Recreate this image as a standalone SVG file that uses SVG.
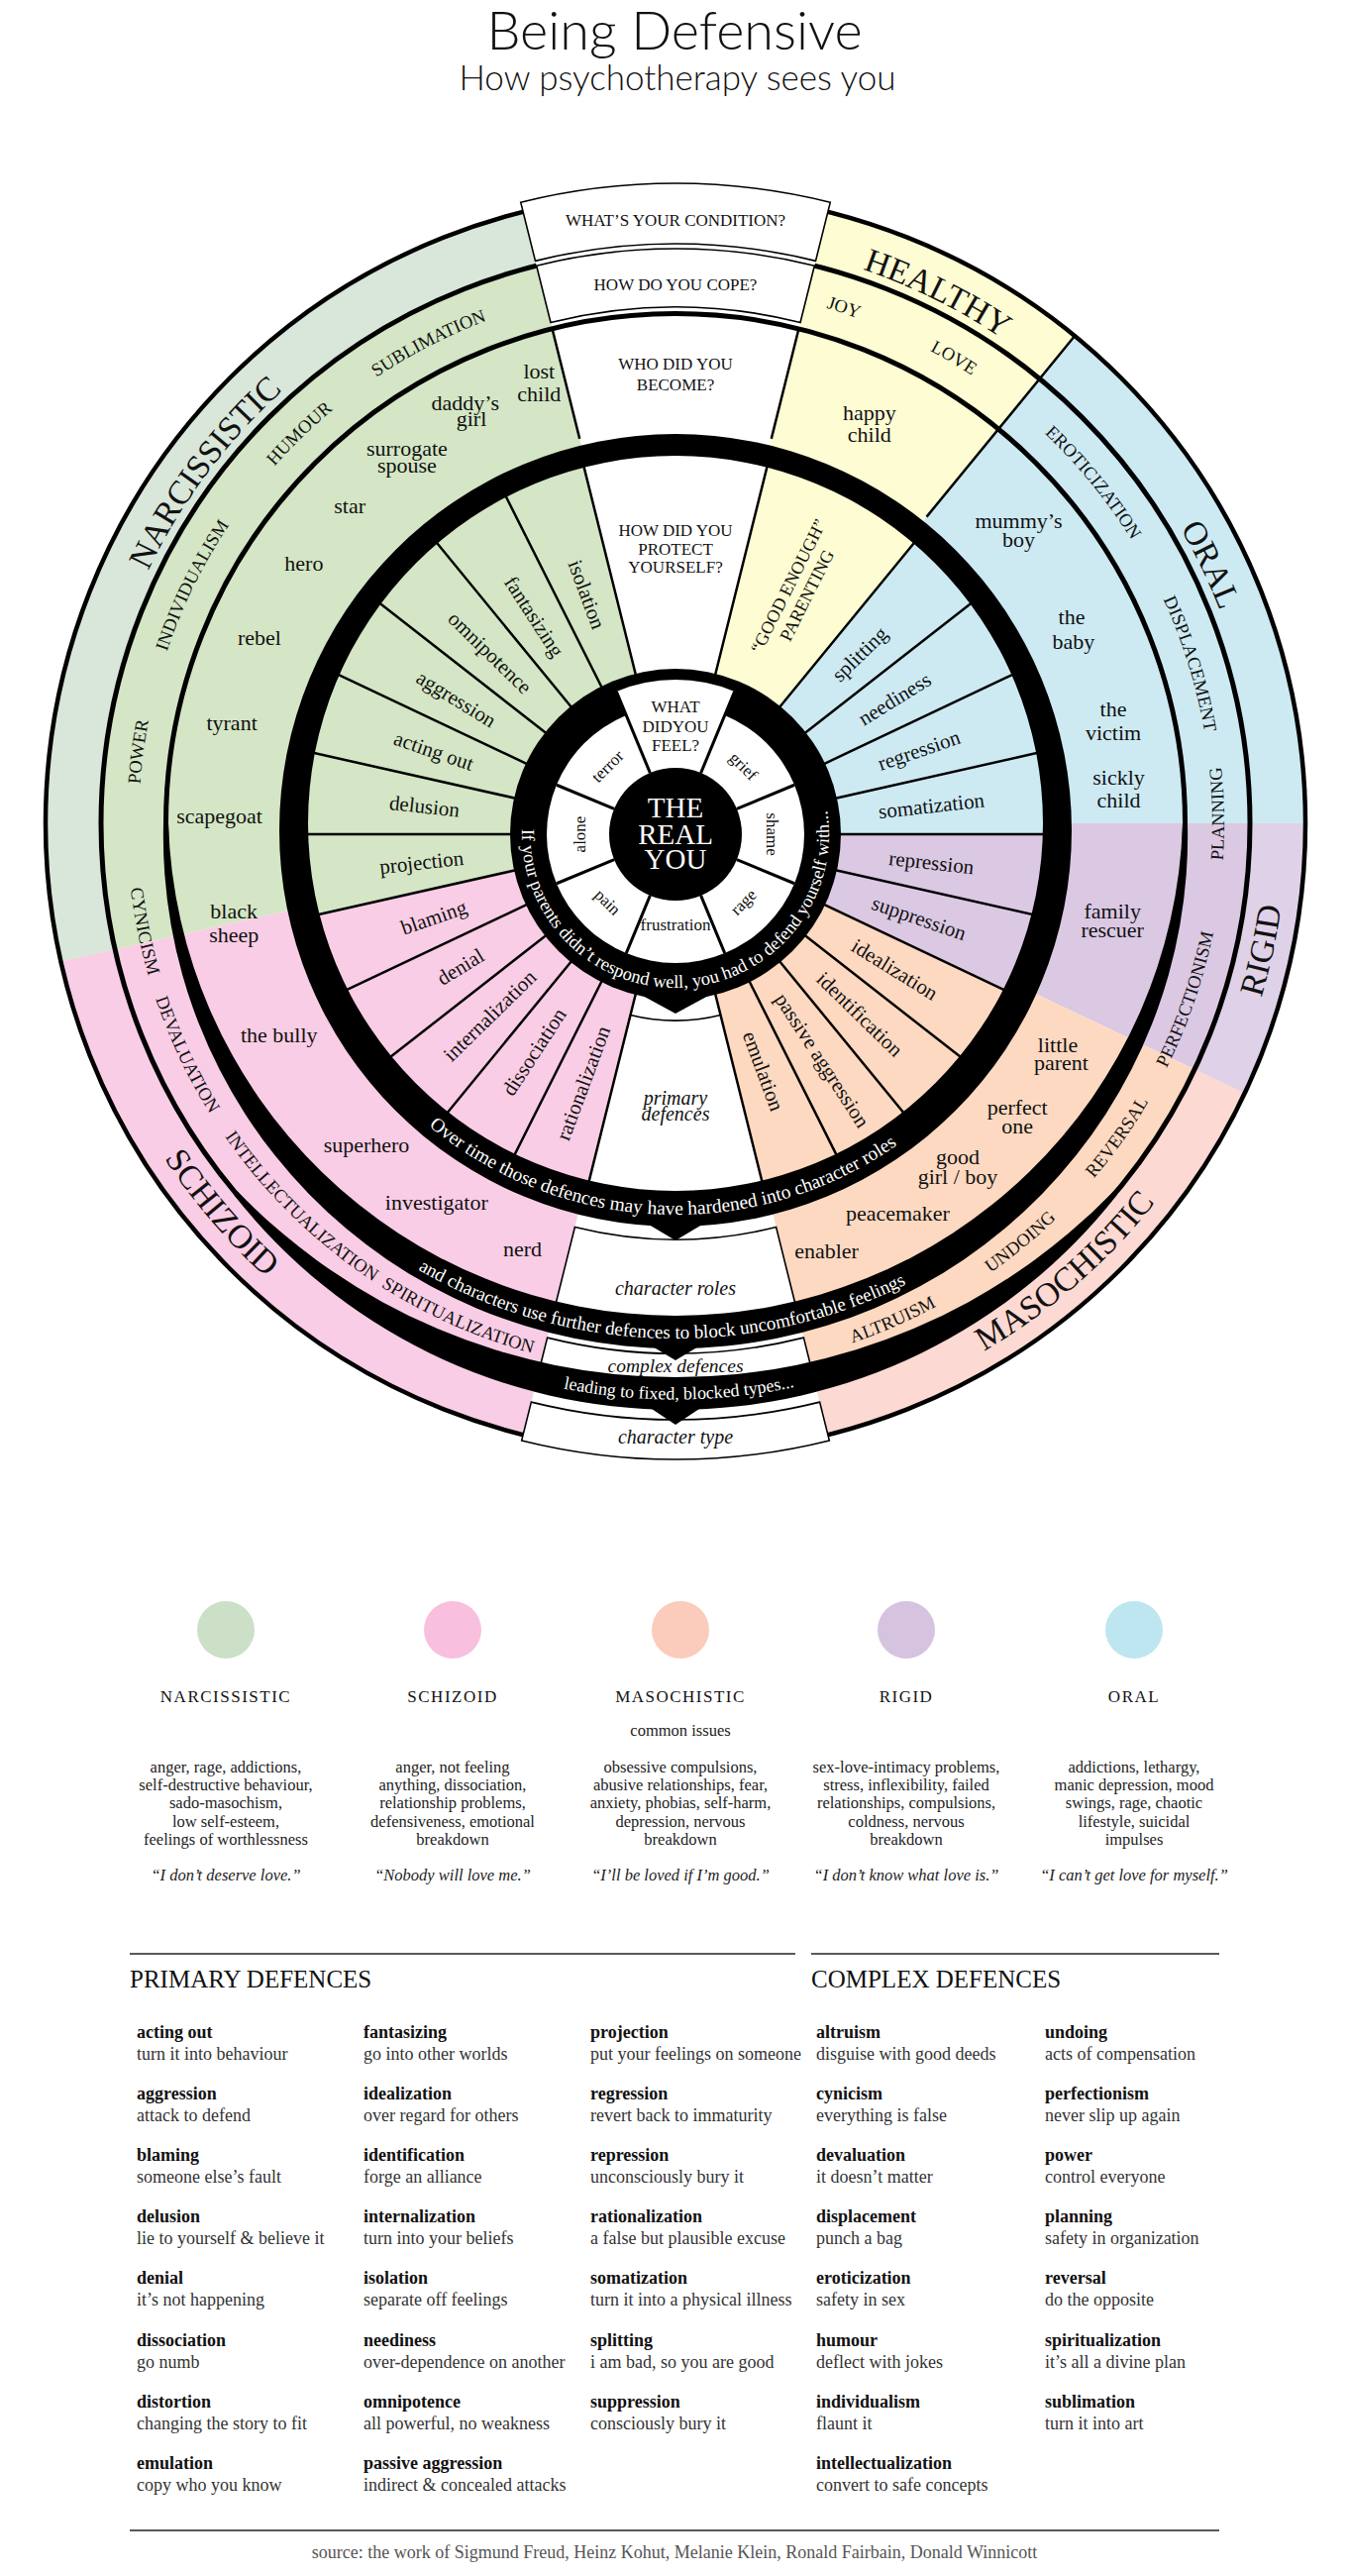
<svg xmlns="http://www.w3.org/2000/svg" width="1362" height="2600" viewBox="0 0 1362 2600">
<defs>
<style>
.serif{font-family:"Liberation Serif","Times New Roman",serif;fill:#111}
.sans{font-family:Lato,"Open Sans","DejaVu Sans",sans-serif;fill:#111;text-anchor:middle}
.div{stroke:#000;stroke-width:2.5;fill:none}
.box{fill:#fff;stroke:#000;stroke-width:1.6}
.cr{font-size:22px;text-anchor:middle}
.pd{font-size:21px;text-anchor:middle;dominant-baseline:central}
.fe{font-size:17px;text-anchor:middle;dominant-baseline:central}
.cp{font-size:18.5px;text-anchor:middle}
.cd{font-size:34px;text-anchor:middle}
.q{font-size:17px;text-anchor:middle}
.it{font-style:italic;text-anchor:middle}
.wt{fill:#fff}
.bl{fill:#fff;text-anchor:middle}
.lg{font-size:17px;text-anchor:middle;letter-spacing:1.5px}
.is{font-size:16.5px;text-anchor:middle;fill:#222}
.qt{font-size:16.5px;font-style:italic;text-anchor:middle;fill:#222}
.tn{font-size:18px;font-weight:bold}
.td{font-size:18px;fill:#333}
.hd{font-size:25px}
.rule{stroke:#222;stroke-width:1.6}
</style>
<path id="pc542" d="M682,289 A542,542 0 1,1 682,1373 A542,542 0 1,1 682,289"/>
<path id="pcc554" d="M682,277 A554,554 0 1,0 682,1385 A554,554 0 1,0 682,277"/>
<path id="pc590" d="M682,241 A590,590 0 1,1 682,1421 A590,590 0 1,1 682,241"/>
<path id="pcc617" d="M682,214 A617,617 0 1,0 682,1448 A617,617 0 1,0 682,214"/>
<path id="ring155" d="M682,687 A155,155 0 1,0 682,997 A155,155 0 1,0 682,687"/>
<path id="over391" d="M682,444 A391,391 0 1,0 682,1226 A391,391 0 1,0 682,444"/>
<path id="and520" d="M682,311 A520,520 0 1,0 682,1351 A520,520 0 1,0 682,311"/>
<path id="lead581" d="M682,249.5 A581.5,581.5 0 1,0 682,1412.5 A581.5,581.5 0 1,0 682,249.5"/>
</defs>
<rect width="1362" height="2600" fill="#fff"/>

<g id="title" class="sans">
<text x="681" y="50" font-size="54" font-weight="300">Being Defensive</text>
<text x="684" y="91" font-size="35" font-weight="300">How psychotherapy sees you</text>
</g>

<g id="wheel">
<g id="outer-sectors">
<path d="M682,831 L835.86,213.89 A636,636 0 0,1 1085.12,339.06 Z" fill="#fdfcd3"/>
<path d="M682,831 L1085.12,339.06 A636,636 0 0,1 1318,831 Z" fill="#cdeaf3"/>
<path d="M682,831 L1318,831 A636,636 0 0,1 1256.87,1103.15 Z" fill="#dbc8e3"/>
<path d="M682,831 L1256.87,1103.15 A636,636 0 0,1 835.86,1448.11 Z" fill="#fdd9c1"/>
<path d="M682,831 L528.14,1448.11 A636,636 0 0,1 61.47,970.46 Z" fill="#f9cde5"/>
<path d="M682,831 L61.47,970.46 A636,636 0 0,1 528.14,213.89 Z" fill="#d4e6c5"/>
<path d="M61.47,970.46 A636,636 0 0,1 528.14,213.89 L541.69,268.23 A580,580 0 0,0 116.11,958.18 Z" fill="#d9e6da"/>
<path d="M1318,831 A636,636 0 0,1 1256.87,1103.15 L1206.26,1079.19 A580,580 0 0,0 1262,831 Z" fill="#dfd2e8"/>
<path d="M1256.87,1103.15 A636,636 0 0,1 835.86,1448.11 L822.31,1393.77 A580,580 0 0,0 1206.26,1079.19 Z" fill="#fcd9d2"/>
</g>
<g id="primary-sectors">
<path d="M682,842 L587.65,463.58 A390,390 0 0,1 776.35,463.58 Z" fill="#fff"/>
<path d="M682,842 L776.35,1220.42 A390,390 0 0,1 587.65,1220.42 Z" fill="#fff"/>
<path d="M682,842 L776.35,463.58 A390,390 0 0,1 929.20,540.34 Z" fill="#fdfcd3"/>
<path d="M682,842 L929.20,540.34 A390,390 0 0,1 1072,842 Z" fill="#cdeaf3"/>
<path d="M682,842 L1072,842 A390,390 0 0,1 1034.52,1008.88 Z" fill="#dbc8e3"/>
<path d="M682,842 L1034.52,1008.88 A390,390 0 0,1 776.35,1220.42 Z" fill="#fdd9c1"/>
<path d="M682,842 L587.65,1220.42 A390,390 0 0,1 301.48,927.52 Z" fill="#f9cde5"/>
<path d="M682,842 L301.48,927.52 A390,390 0 0,1 587.65,463.58 Z" fill="#d4e6c5"/>
</g>
<g id="dividers" class="div">
<path d="M720.71,686.75 L776.83,461.64 M783.41,718.24 L930.47,538.79 M808.08,743.49 L990.90,600.66 M826.62,773.53 L1036.32,674.26 M838.11,806.92 L1064.47,756.04 M842,842 L1074,842 M838.11,877.08 L1064.47,927.96 M826.62,910.47 L1036.32,1009.74 M808.08,940.51 L990.90,1083.34 M783.41,965.76 L930.47,1145.21 M753.81,984.99 L857.94,1192.33 M720.71,997.25 L776.83,1222.36 M643.29,997.25 L587.17,1222.36 M610.19,984.99 L506.06,1192.33 M580.59,965.76 L433.53,1145.21 M555.92,940.51 L373.10,1083.34 M537.38,910.47 L327.68,1009.74 M525.89,877.08 L299.53,927.96 M522,842 L290,842 M525.89,806.92 L299.53,756.04 M537.38,773.53 L327.68,674.26 M555.92,743.49 L373.10,600.66 M580.59,718.24 L433.53,538.79 M610.19,699.01 L506.06,491.67 M643.29,686.75 L587.17,461.64"/>
<path d="M935.54,521.60 L1085.12,339.06 M585.23,442.88 L557.65,332.27 M778.77,442.88 L806.35,332.27"/>
</g>
<path id="thick-ring" fill="#000" fill-rule="evenodd" d="M282,838 A400,400 0 1,0 1082,838 A400,400 0 1,0 282,838 Z M311,831 A371,371 0 1,0 1053,831 A371,371 0 1,0 311,831 Z"/>
<g id="ring-lines" fill="none" stroke="#000">
<circle cx="682" cy="831" r="514.5" stroke-width="5"/>
<circle cx="682" cy="831" r="580" stroke-width="5"/>
<circle cx="682" cy="831" r="636" stroke-width="4.5"/>
</g>
<g id="boxes">
<path d="M542.41,271.14 A577,577 0 0,1 821.59,271.14 L823.77,262.40 A586,586 0 0,0 540.23,262.40 Z" fill="#fff"/>
<path class="box" d="M525.72,204.19 A646,646 0 0,1 838.28,204.19 L823.52,263.37 A585,585 0 0,0 540.48,263.37 Z"/>
<path class="box" d="M541.69,268.23 A580,580 0 0,1 822.31,268.23 L808.04,325.47 A521,521 0 0,0 555.96,325.47 Z"/>
<path class="box" d="M580.39,1238.53 A420,420 0 0,0 783.61,1238.53 L804.17,1321 A505,505 0 0,1 559.83,1321 Z"/>
<path class="box" d="M552.57,1350.11 A535,535 0 0,0 811.43,1350.11 L818.68,1379.22 A565,565 0 0,1 545.32,1379.22 Z"/>
<path class="box" d="M536.36,1415.12 A602,602 0 0,0 827.64,1415.12 L837.31,1453.93 A642,642 0 0,1 526.69,1453.93 Z"/>
<path d="M636.52,1024.42 A188,188 0 0,0 727.48,1024.42" fill="none" stroke="#000" stroke-width="1.6"/>
</g>
<g id="bands" fill="#000">
<path d="M165,831 A517.16,517.16 0 1,0 1199,831 L1194,831 A512.23,512.23 0 0,1 170,831 Z"/>
<path d="M235.8,1205.4 A566.3,566.3 0 0,0 1128.2,1205.4 L1124.4,1202.2 A615,615 0 0,1 239.6,1202.2 Z"/>
</g>
<g id="core">
<circle cx="682" cy="842" r="167" fill="#000"/>
<circle cx="682" cy="842" r="130" fill="#fff"/>
<path d="M682,842 L622.30,697.88 A156,156 0 0,1 741.70,697.88 Z" fill="#fff"/>
<path stroke="#000" stroke-width="3" fill="none" d="M707.64,780.10 L741.70,697.88 M656.36,780.10 L622.30,697.88 M743.90,816.36 L802.10,792.25 M743.90,867.64 L802.10,891.75 M707.64,903.90 L731.75,962.10 M656.36,903.90 L632.25,962.10 M620.10,867.64 L561.90,891.75 M620.10,816.36 L561.90,792.25"/>
<circle cx="682" cy="842" r="67" fill="#000"/>
</g>
<g id="pointers" fill="#000">
<polygon points="636,998 728,998 682,1023"/>
<polygon points="650,1233 714,1233 682,1252"/>
<polygon points="652,1355 712,1355 682,1373"/>
<polygon points="652,1418 712,1418 682,1438"/>
</g>

<g id="wheel-text" class="serif">
<g id="questions" class="q">
<text x="682" y="227.5">WHAT’S YOUR CONDITION?</text>
<text x="682" y="292.5">HOW DO YOU COPE?</text>
<text x="682" y="372.5">WHO DID YOU</text>
<text x="682" y="394">BECOME?</text>
<text x="682" y="541">HOW DID YOU</text>
<text x="682" y="559.5">PROTECT</text>
<text x="682" y="578">YOURSELF?</text>
<text x="682" y="719">WHAT</text>
<text x="682" y="738.5">DIDYOU</text>
<text x="682" y="758">FEEL?</text>
</g>
<g id="real-you" class="bl" font-size="29">
<text x="682" y="825">THE</text>
<text x="682" y="851.5">REAL</text>
<text x="682" y="877">YOU</text>
</g>
<g id="feelings" class="fe">
<text transform="translate(750.59,773.41) rotate(45)">grief</text>
<text transform="translate(779,842) rotate(90)">shame</text>
<text transform="translate(750.59,910.59) rotate(-45)">rage</text>
<text transform="translate(682,933)">frustration</text>
<text transform="translate(613.41,910.59) rotate(45)">pain</text>
<text transform="translate(585,842) rotate(-90)">alone</text>
<text transform="translate(613.41,773.41) rotate(-45)">terror</text>
</g>
<g id="primary-defences" class="pd">
<text transform="translate(867.99,660.29) rotate(-44.33)">splitting</text>
<text transform="translate(903.29,705.5) rotate(-31.67)">neediness</text>
<text transform="translate(927.84,757.35) rotate(-19)">regression</text>
<text transform="translate(940.41,813.32) rotate(-6.33)">somatization</text>
<text transform="translate(940.41,870.68) rotate(6.33)">repression</text>
<text transform="translate(927.84,926.65) rotate(19)">suppression</text>
<text transform="translate(903.29,978.5) rotate(31.67)">idealization</text>
<text transform="translate(867.99,1023.71) rotate(44.33)">identification</text>
<text transform="translate(830.14,1070.12) rotate(57)">passive aggression</text>
<text transform="translate(770.61,1081.11) rotate(69.67)">emulation</text>
<text transform="translate(588.87,1093.3) rotate(-69.67)">rationalization</text>
<text transform="translate(539.3,1061.73) rotate(-57)">dissociation</text>
<text transform="translate(494.58,1025.11) rotate(-44.33)">internalization</text>
<text transform="translate(464.96,975.87) rotate(-31.67)">denial</text>
<text transform="translate(438.06,926) rotate(-19)">blaming</text>
<text transform="translate(425.57,870.46) rotate(-6.33)">projection</text>
<text transform="translate(428.56,813.87) rotate(6.33)">delusion</text>
<text transform="translate(438.06,758) rotate(19)">acting out</text>
<text transform="translate(460.71,705.5) rotate(31.67)">aggression</text>
<text transform="translate(494.58,658.89) rotate(44.33)">omnipotence</text>
<text transform="translate(539.3,622.27) rotate(57)">fantasizing</text>
<text transform="translate(592.35,600.07) rotate(69.67)">isolation</text>
<g transform="translate(805.4,596.2) rotate(-63.33)" font-size="18">
<text y="-10.5">“GOOD ENOUGH”</text>
<text y="10.5">PARENTING</text>
</g>
</g>
<g id="box-labels" class="it">
<text x="682" y="1114.5" font-size="20">primary</text>
<text x="682" y="1130.5" font-size="20">defences</text>
<text x="682" y="1307" font-size="20">character roles</text>
<text x="682" y="1385" font-size="19.5">complex defences</text>
<text x="682" y="1457" font-size="20">character type</text>
</g>
<g id="character-roles" class="cr">
<text x="544.3" y="382">lost</text><text x="544.3" y="405">child</text>
<text x="469.8" y="414">daddy’s</text><text x="476" y="430">girl</text>
<text x="410.9" y="460">surrogate</text><text x="410.9" y="477">spouse</text>
<text x="353.2" y="518">star</text>
<text x="306.9" y="576">hero</text>
<text x="261.9" y="650.5">rebel</text>
<text x="234.1" y="736.8">tyrant</text>
<text x="221.5" y="830.7">scapegoat</text>
<text x="236.2" y="926.8">black</text><text x="236.2" y="951.2">sheep</text>
<text x="281.7" y="1052.2">the bully</text>
<text x="370" y="1162.5">superhero</text>
<text x="440.8" y="1221.4">investigator</text>
<text x="527.5" y="1267.7">nerd</text>
<text x="834.5" y="1269.8">enabler</text>
<text x="906.4" y="1232.4">peacemaker</text>
<text x="967" y="1175.1">good</text><text x="967" y="1194.5">girl / boy</text>
<text x="1027.2" y="1125">perfect</text><text x="1027.2" y="1144">one</text>
<text x="1068" y="1061.5">little</text><text x="1071.4" y="1079.6">parent</text>
<text x="1123.2" y="926.8">family</text><text x="1123.2" y="945.7">rescuer</text>
<text x="877.8" y="424.1">happy</text><text x="877.8" y="446.4">child</text>
<text x="1028.5" y="532.7">mummy’s</text><text x="1028.5" y="552">boy</text>
<text x="1082" y="629.5">the</text><text x="1084" y="654.8">baby</text>
<text x="1124" y="723.4">the</text><text x="1124" y="746.5">victim</text>
<text x="1129.5" y="791.5">sickly</text><text x="1129.5" y="814.7">child</text>
</g>
<g id="coping" class="cp">
<text><textPath href="#pc542" startOffset="92.44%">SUBLIMATION</textPath></text>
<text><textPath href="#pc542" startOffset="87.78%">HUMOUR</textPath></text>
<text><textPath href="#pc542" startOffset="82.28%">INDIVIDUALISM</textPath></text>
<text><textPath href="#pc542" startOffset="77.11%">POWER</textPath></text>
<text><textPath href="#pc542" startOffset="5.03%">JOY</textPath></text>
<text><textPath href="#pc542" startOffset="8.58%">LOVE</textPath></text>
<text><textPath href="#pc542" startOffset="14.11%">EROTICIZATION</textPath></text>
<text><textPath href="#pc542" startOffset="20.22%">DISPLACEMENT</textPath></text>
<text><textPath href="#pcc554" startOffset="75.28%">PLANNING</textPath></text>
<text><textPath href="#pcc554" startOffset="69.72%">PERFECTIONISM</textPath></text>
<text><textPath href="#pcc554" startOffset="65.17%">REVERSAL</textPath></text>
<text><textPath href="#pcc554" startOffset="60.97%">UNDOING</textPath></text>
<text><textPath href="#pcc554" startOffset="56.56%">ALTRUISM</textPath></text>
<text><textPath href="#pcc554" startOffset="43.39%">SPIRITUALIZATION</textPath></text>
<text><textPath href="#pcc554" startOffset="37.69%">INTELLECTUALIZATION</textPath></text>
<text><textPath href="#pcc554" startOffset="32.03%">DEVALUATION</textPath></text>
<text><textPath href="#pcc554" startOffset="28.19%">CYNICISM</textPath></text>
</g>
<g id="conditions" class="cd">
<text><textPath href="#pc590" startOffset="85.19%">NARCISSISTIC</textPath></text>
<text><textPath href="#pc590" startOffset="7.31%">HEALTHY</textPath></text>
<text><textPath href="#pc590" startOffset="17.83%">ORAL</textPath></text>
<text><textPath href="#pcc617" startOffset="71.61%">RIGID</textPath></text>
<text><textPath href="#pcc617" startOffset="61.39%">MASOCHISTIC</textPath></text>
<text><textPath href="#pcc617" startOffset="36.28%">SCHIZOID</textPath></text>
</g>
<g id="band-text" class="bl">
<text font-size="18.5"><textPath href="#ring155" startOffset="50.97%">If your parents didn’t respond well, you had to defend yourself with...</textPath></text>
<text font-size="19.5"><textPath href="#over391" startOffset="49.36%">Over time those defences may have hardened into character roles</textPath></text>
<text font-size="19"><textPath href="#and520" startOffset="49.53%">and characters use further defences to block uncomfortable feelings</textPath></text>
<text font-size="18"><textPath href="#lead581" startOffset="50.1%">leading to fixed, blocked types...</textPath></text>
</g>
</g>
</g>

<g id="legend" class="serif">
<circle cx="228" cy="1645" r="29" fill="#cce0c8"/>
<circle cx="457" cy="1645" r="29" fill="#f8c0de"/>
<circle cx="687" cy="1645" r="29" fill="#fbcbbc"/>
<circle cx="915" cy="1645" r="29" fill="#d5c3e0"/>
<circle cx="1145" cy="1645" r="29" fill="#bee6f0"/>
<text class="lg" x="228" y="1718">NARCISSISTIC</text>
<text class="lg" x="457" y="1718">SCHIZOID</text>
<text class="lg" x="687" y="1718">MASOCHISTIC</text>
<text class="lg" x="915" y="1718">RIGID</text>
<text class="lg" x="1145" y="1718">ORAL</text>
<text class="is" x="687" y="1752" font-size="17">common issues</text>
<g class="is">
<text x="228" y="1789">anger, rage,  addictions,</text>
<text x="228" y="1807.2">self-destructive behaviour,</text>
<text x="228" y="1825.4">sado-masochism,</text>
<text x="228" y="1843.6">low self-esteem,</text>
<text x="228" y="1861.8">feelings of worthlessness</text>
<text x="457" y="1789">anger, not feeling</text>
<text x="457" y="1807.2">anything, dissociation,</text>
<text x="457" y="1825.4">relationship problems,</text>
<text x="457" y="1843.6">defensiveness, emotional</text>
<text x="457" y="1861.8">breakdown</text>
<text x="687" y="1789">obsessive compulsions,</text>
<text x="687" y="1807.2">abusive relationships, fear,</text>
<text x="687" y="1825.4">anxiety, phobias, self-harm,</text>
<text x="687" y="1843.6">depression, nervous</text>
<text x="687" y="1861.8">breakdown</text>
<text x="915" y="1789">sex-love-intimacy problems,</text>
<text x="915" y="1807.2">stress, inflexibility, failed</text>
<text x="915" y="1825.4">relationships, compulsions,</text>
<text x="915" y="1843.6">coldness, nervous</text>
<text x="915" y="1861.8">breakdown</text>
<text x="1145" y="1789">addictions, lethargy,</text>
<text x="1145" y="1807.2">manic depression, mood</text>
<text x="1145" y="1825.4">swings, rage, chaotic</text>
<text x="1145" y="1843.6">lifestyle, suicidal</text>
<text x="1145" y="1861.8">impulses</text>
</g>
<g class="qt">
<text x="228" y="1898">“I don’t deserve love.”</text>
<text x="457" y="1898">“Nobody will love me.”</text>
<text x="687" y="1898">“I’ll be loved if I’m good.”</text>
<text x="915" y="1898">“I don’t know what love is.”</text>
<text x="1145" y="1898">“I can’t get love for myself.”</text>
</g>
</g>

<g id="glossary" class="serif">
<line class="rule" x1="131" y1="1972" x2="803" y2="1972"/>
<line class="rule" x1="819" y1="1972" x2="1231" y2="1972"/>
<text class="hd" x="131" y="2006">PRIMARY DEFENCES</text>
<text class="hd" x="819" y="2006">COMPLEX DEFENCES</text>
<g id="col1">
<text class="tn" x="138" y="2057">acting out</text><text class="td" x="138" y="2079">turn it into behaviour</text>
<text class="tn" x="138" y="2119.1">aggression</text><text class="td" x="138" y="2141.1">attack to defend</text>
<text class="tn" x="138" y="2181.2">blaming</text><text class="td" x="138" y="2203.2">someone else’s fault</text>
<text class="tn" x="138" y="2243.3">delusion</text><text class="td" x="138" y="2265.3">lie to yourself &amp; believe it</text>
<text class="tn" x="138" y="2305.4">denial</text><text class="td" x="138" y="2327.4">it’s not happening</text>
<text class="tn" x="138" y="2367.5">dissociation</text><text class="td" x="138" y="2389.5">go numb</text>
<text class="tn" x="138" y="2429.6">distortion</text><text class="td" x="138" y="2451.6">changing the story to fit</text>
<text class="tn" x="138" y="2491.7">emulation</text><text class="td" x="138" y="2513.7">copy who you know</text>
</g>
<g id="col2">
<text class="tn" x="367" y="2057">fantasizing</text><text class="td" x="367" y="2079">go into other worlds</text>
<text class="tn" x="367" y="2119.1">idealization</text><text class="td" x="367" y="2141.1">over regard for others</text>
<text class="tn" x="367" y="2181.2">identification</text><text class="td" x="367" y="2203.2">forge an alliance</text>
<text class="tn" x="367" y="2243.3">internalization</text><text class="td" x="367" y="2265.3">turn into your beliefs</text>
<text class="tn" x="367" y="2305.4">isolation</text><text class="td" x="367" y="2327.4">separate off feelings</text>
<text class="tn" x="367" y="2367.5">neediness</text><text class="td" x="367" y="2389.5">over-dependence on another</text>
<text class="tn" x="367" y="2429.6">omnipotence</text><text class="td" x="367" y="2451.6">all powerful, no weakness</text>
<text class="tn" x="367" y="2491.7">passive aggression</text><text class="td" x="367" y="2513.7">indirect &amp; concealed attacks</text>
</g>
<g id="col3">
<text class="tn" x="596" y="2057">projection</text><text class="td" x="596" y="2079">put your feelings on someone</text>
<text class="tn" x="596" y="2119.1">regression</text><text class="td" x="596" y="2141.1">revert back to immaturity</text>
<text class="tn" x="596" y="2181.2">repression</text><text class="td" x="596" y="2203.2">unconsciously bury it</text>
<text class="tn" x="596" y="2243.3">rationalization</text><text class="td" x="596" y="2265.3">a false but plausible excuse</text>
<text class="tn" x="596" y="2305.4">somatization</text><text class="td" x="596" y="2327.4">turn it into a physical illness</text>
<text class="tn" x="596" y="2367.5">splitting</text><text class="td" x="596" y="2389.5">i am bad, so you are good</text>
<text class="tn" x="596" y="2429.6">suppression</text><text class="td" x="596" y="2451.6">consciously bury it</text>
</g>
<g id="col4">
<text class="tn" x="824" y="2057">altruism</text><text class="td" x="824" y="2079">disguise with good deeds</text>
<text class="tn" x="824" y="2119.1">cynicism</text><text class="td" x="824" y="2141.1">everything is false</text>
<text class="tn" x="824" y="2181.2">devaluation</text><text class="td" x="824" y="2203.2">it doesn’t matter</text>
<text class="tn" x="824" y="2243.3">displacement</text><text class="td" x="824" y="2265.3">punch a bag</text>
<text class="tn" x="824" y="2305.4">eroticization</text><text class="td" x="824" y="2327.4">safety in sex</text>
<text class="tn" x="824" y="2367.5">humour</text><text class="td" x="824" y="2389.5">deflect with jokes</text>
<text class="tn" x="824" y="2429.6">individualism</text><text class="td" x="824" y="2451.6">flaunt it</text>
<text class="tn" x="824" y="2491.7">intellectualization</text><text class="td" x="824" y="2513.7">convert to safe concepts</text>
</g>
<g id="col5">
<text class="tn" x="1055" y="2057">undoing</text><text class="td" x="1055" y="2079">acts of compensation</text>
<text class="tn" x="1055" y="2119.1">perfectionism</text><text class="td" x="1055" y="2141.1">never slip up again</text>
<text class="tn" x="1055" y="2181.2">power</text><text class="td" x="1055" y="2203.2">control everyone</text>
<text class="tn" x="1055" y="2243.3">planning</text><text class="td" x="1055" y="2265.3">safety in organization</text>
<text class="tn" x="1055" y="2305.4">reversal</text><text class="td" x="1055" y="2327.4">do the opposite</text>
<text class="tn" x="1055" y="2367.5">spiritualization</text><text class="td" x="1055" y="2389.5">it’s all a divine plan</text>
<text class="tn" x="1055" y="2429.6">sublimation</text><text class="td" x="1055" y="2451.6">turn it into art</text>
</g>
<line class="rule" x1="131" y1="2554" x2="1231" y2="2554"/>
<text x="681" y="2582" font-size="18" text-anchor="middle" fill="#555">source: the work of Sigmund Freud, Heinz Kohut, Melanie Klein, Ronald Fairbain, Donald Winnicott</text>
</g>
</svg>
